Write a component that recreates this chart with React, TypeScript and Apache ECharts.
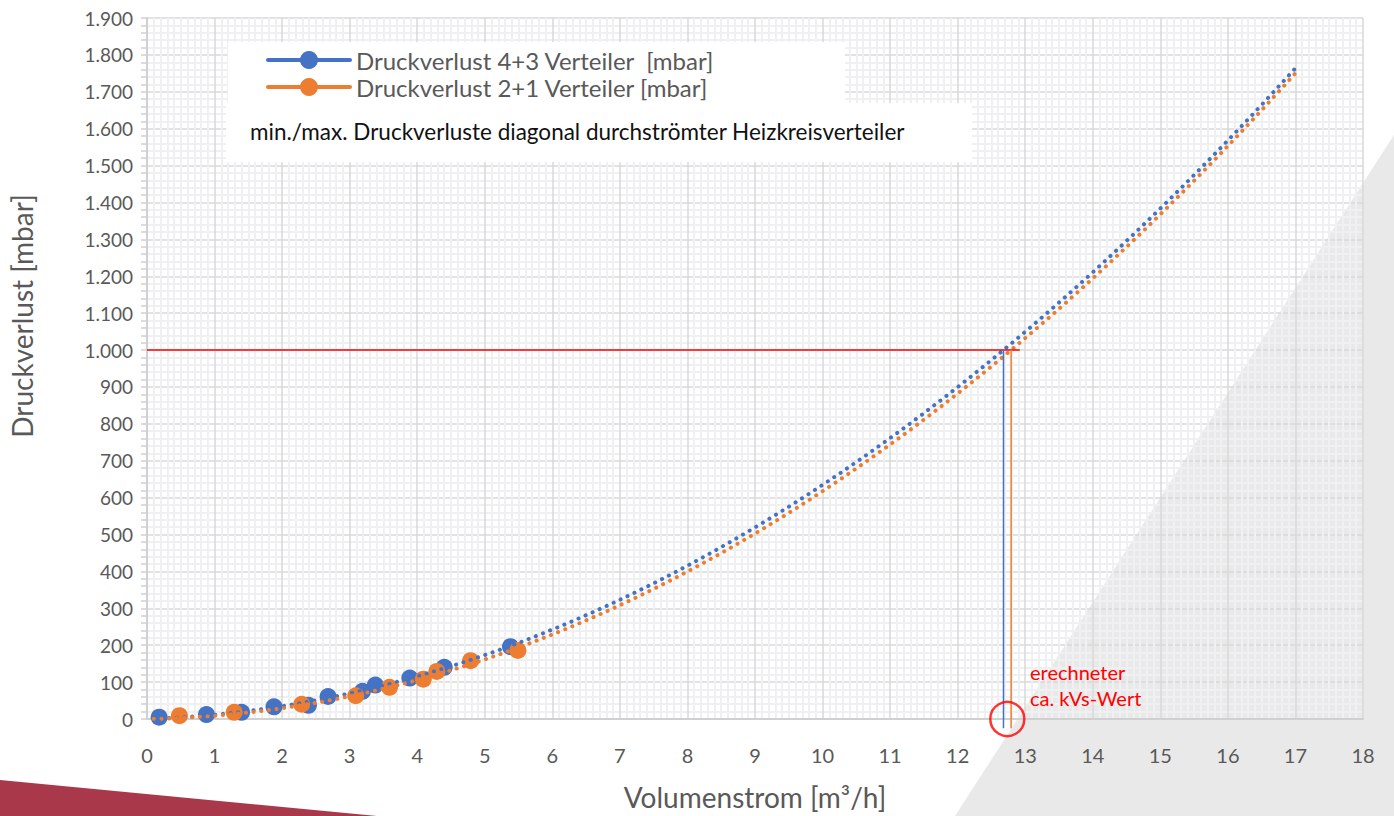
import React, { useEffect, useRef } from "react";
import * as echarts from "echarts";

// Druckverlust 4+3 Verteiler [mbar]
const blueX = [0.18, 0.88, 1.4, 1.88, 2.39, 2.68, 3.19, 3.38, 3.89, 4.4, 5.38];
const blueY = [5, 12, 18, 33, 37, 61, 75, 92, 111, 140, 196];
// Druckverlust 2+1 Verteiler [mbar]
const orangeX = [0.48, 1.29, 2.29, 3.09, 3.59, 4.09, 4.29, 4.79, 5.49];
const orangeY = [9, 18, 40, 63, 86, 108, 129, 158, 186];

// Polynomial (2nd order) trendline coefficients: y = a·x² + b·x
const blueTrend = { a: 5.76, b: 5.85 };
const orangeTrend = { a: 5.89, b: 2.84 };

const seriesNames = ["Druckverlust 4+3 Verteiler  [mbar]", "Druckverlust 2+1 Verteiler [mbar]"];
const subtitle = "min./max. Druckverluste diagonal durchströmter Heizkreisverteiler";
const annotationLines = ["erechneter", "ca. kVs-Wert"];
const xName = "Volumenstrom [m³/h]";
const yName = "Druckverlust [mbar]";

const targetLoss = 1000; // mbar reference line
const refLineEndX = 12.92;
const trendStart = 0.1;
const trendEnd = 17;
const trendStep = 0.1;
const kvsLineBottom = -25;

const BLUE = "#4472c4";
const ORANGE = "#ed7d31";
const GRAY_TEXT = "#595959";
const FONT = "Lato, 'Noto Sans', sans-serif";

function trendPoints(fit: { a: number; b: number }) {
  const pts: number[][] = [];
  const n = Math.round((trendEnd - trendStart) / trendStep);
  for (let i = 0; i <= n; i++) {
    const x = trendStart + i * trendStep;
    pts.push([x, fit.a * x * x + fit.b * x]);
  }
  return pts;
}

function solveFor(fit: { a: number; b: number }, y: number) {
  return (-fit.b + Math.sqrt(fit.b * fit.b + 4 * fit.a * y)) / (2 * fit.a);
}

export default function App() {
  const ref = useRef<HTMLDivElement>(null);
  useEffect(() => {
    if (!ref.current) return;
    const chart = echarts.init(ref.current, undefined, { renderer: "svg" });
    const kvB = solveFor(blueTrend, targetLoss);
    const kvO = solveFor(orangeTrend, targetLoss);
    const kvMid = (kvB + kvO) / 2;

    const dotted = (color: string) => ({
      color,
      width: 4,
      type: [0.1, 7.6] as any,
      cap: "round" as const,
    });

    chart.setOption({
      animation: false,
      backgroundColor: "transparent",
      textStyle: { fontFamily: FONT },
      grid: { left: 147, right: 31, top: 18, bottom: 95, containLabel: false },
      xAxis: {
        type: "value",
        min: 0,
        max: 18,
        interval: 1,
        name: xName,
        nameLocation: "middle",
        nameGap: 64,
        nameTextStyle: { fontSize: 28, color: GRAY_TEXT, fontFamily: FONT },
        axisLine: { show: true, lineStyle: { color: "#d0d0d0", width: 2 } },
        axisTick: { show: false },
        axisLabel: { fontSize: 20, color: GRAY_TEXT, margin: 26, fontFamily: FONT },
        splitLine: { show: true, lineStyle: { color: "#d9d9d9", width: 1.5 } },
        minorTick: { show: false, splitNumber: 10 },
        minorSplitLine: { show: true, lineStyle: { color: "#eef0f2", width: 2 } },
      },
      yAxis: {
        type: "value",
        min: 0,
        max: 1900,
        interval: 100,
        axisLine: { show: true, lineStyle: { color: "#d0d0d0", width: 2 } },
        axisTick: { show: true, length: 6, lineStyle: { color: "#d0d0d0", width: 1.5 } },
        minorTick: { show: true, splitNumber: 5, length: 6, lineStyle: { color: "#d0d0d0", width: 1.5 } },
        axisLabel: {
          fontSize: 19,
          color: GRAY_TEXT,
          margin: 14,
          fontFamily: FONT,
          formatter: (v: number) => v.toString().replace(/\B(?=(\d{3})+(?!\d))/g, "."),
        },
        splitLine: { show: true, lineStyle: { color: "#d9d9d9", width: 1.5 } },
        minorSplitLine: { show: true, lineStyle: { color: "#eef0f2", width: 2 } },
      },
      graphic: [
        {
          type: "polygon",
          z: -100,
          silent: true,
          shape: { points: [[1394, 135], [1394, 816], [955, 816]] },
          style: { fill: "#e9e9e9" },
        },
        {
          type: "polygon",
          z: -100,
          silent: true,
          shape: { points: [[0, 780], [377, 816], [0, 816]] },
          style: { fill: "#a8384a" },
        },
        {
          type: "text",
          z: 52,
          x: 22,
          y: 316,
          rotation: Math.PI / 2,
          style: { text: yName, fontSize: 28, fill: GRAY_TEXT, fontFamily: FONT, align: "center", verticalAlign: "middle" },
        },
        { type: "rect", z: 50, shape: { x: 228, y: 42, width: 617, height: 62 }, style: { fill: "#ffffff" } },
        { type: "rect", z: 50, shape: { x: 226, y: 103, width: 746, height: 59 }, style: { fill: "#ffffff" } },
        { type: "line", z: 51, shape: { x1: 268, y1: 60, x2: 350, y2: 60 }, style: { stroke: BLUE, lineWidth: 4, lineCap: "round" } },
        { type: "circle", z: 52, shape: { cx: 309, cy: 60, r: 9 }, style: { fill: BLUE } },
        {
          type: "text", z: 52, x: 356, y: 60,
          style: { text: seriesNames[0], fontSize: 24, lineHeight: 25, fill: GRAY_TEXT, fontFamily: FONT, verticalAlign: "middle" },
        },
        { type: "line", z: 51, shape: { x1: 268, y1: 87, x2: 350, y2: 87 }, style: { stroke: ORANGE, lineWidth: 4, lineCap: "round" } },
        { type: "circle", z: 52, shape: { cx: 309, cy: 87, r: 9 }, style: { fill: ORANGE } },
        {
          type: "text", z: 52, x: 356, y: 87,
          style: { text: seriesNames[1], fontSize: 24, lineHeight: 25, fill: GRAY_TEXT, fontFamily: FONT, verticalAlign: "middle" },
        },
        { type: "text", z: 52, x: 250, y: 131, style: { text: subtitle, fontSize: 22.5, fill: "#111111", fontFamily: FONT, verticalAlign: "middle" } },
        {
          type: "text",
          z: 52,
          x: 1030,
          y: 659,
          style: { text: annotationLines.join("\n"), fontSize: 20, lineHeight: 26, fill: "#ff0000", fontFamily: FONT },
        },
      ],
      series: [
        {
          name: seriesNames[0],
          type: "scatter",
          data: blueX.map((x, i) => [x, blueY[i]]),
          symbolSize: 17,
          itemStyle: { color: BLUE, opacity: 1 },
          z: 3,
        },
        {
          name: seriesNames[1],
          type: "scatter",
          data: orangeX.map((x, i) => [x, orangeY[i]]),
          symbolSize: 17,
          itemStyle: { color: ORANGE, opacity: 1 },
          z: 4,
        },
        {
          type: "line",
          data: trendPoints(blueTrend),
          showSymbol: false,
          symbol: "none",
          lineStyle: dotted(BLUE),
          z: 5,
        },
        {
          type: "line",
          data: trendPoints(orangeTrend),
          showSymbol: false,
          symbol: "none",
          lineStyle: dotted(ORANGE),
          z: 6,
        },
        {
          type: "line",
          data: [[0, targetLoss], [refLineEndX, targetLoss]],
          symbol: "none",
          lineStyle: { color: "#ff0000", width: 1.5 },
          z: 7,
        },
        {
          type: "line",
          data: [[kvB, targetLoss], [kvB, kvsLineBottom]],
          symbol: "none",
          clip: false,
          lineStyle: { color: BLUE, width: 1.5 },
          z: 7,
        },
        {
          type: "line",
          data: [[kvO, targetLoss], [kvO, kvsLineBottom]],
          symbol: "none",
          clip: false,
          lineStyle: { color: ORANGE, width: 1.5 },
          z: 7,
        },
        {
          type: "scatter",
          data: [[kvMid, 0]],
          symbol: "circle",
          symbolSize: 34,
          clip: false,
          itemStyle: { color: "rgba(0,0,0,0)", borderColor: "#ff0000", borderWidth: 2.5 },
          z: 8,
        },
      ],
    });
    return () => chart.dispose();
  }, []);
  return (
    <div
      ref={ref}
      style={{ position: "fixed", left: 0, top: 0, width: 1394, height: 816, background: "#ffffff" }}
    />
  );
}
